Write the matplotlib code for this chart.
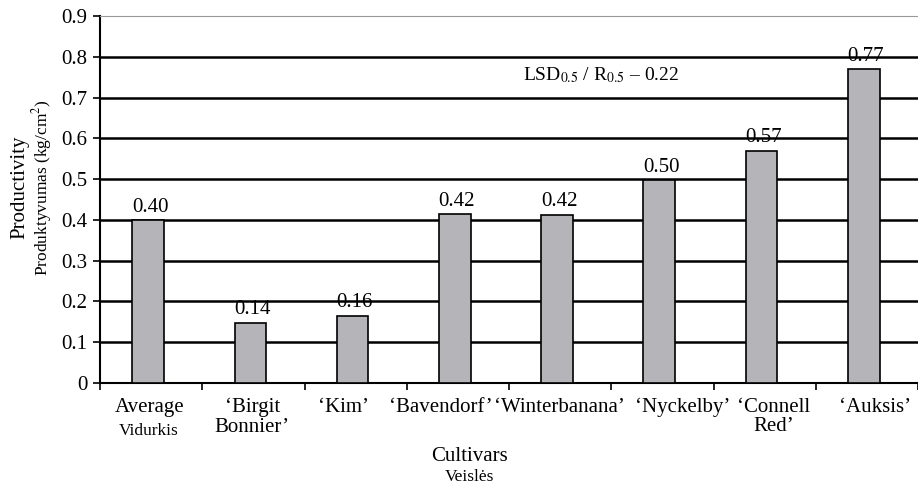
import matplotlib
matplotlib.use("Agg")
import matplotlib.pyplot as plt
import numpy as np
from matplotlib.transforms import blended_transform_factory

plt.rcParams['font.family'] = ['Liberation Serif', 'DejaVu Serif']
plt.rcParams['mathtext.fontset'] = 'stix'

categories = ["Average", "‘Birgit\nBonnier’", "‘Kim’", "‘Bavendorf’", "‘Winterbanana’",
              "‘Nyckelby’", "‘Connell\nRed’", "‘Auksis’"]
sub_labels = ["Vidurkis", "", "", "", "", "", "", ""]
values = [0.40, 0.148, 0.165, 0.415, 0.413, 0.497, 0.57, 0.77]
value_labels = ["0.40", "0.14", "0.16", "0.42", "0.42", "0.50", "0.57", "0.77"]
yticks = [0, 0.1, 0.2, 0.3, 0.4, 0.5, 0.6, 0.7, 0.8, 0.9]
ytick_labels = ["0", "0.1", "0.2", "0.3", "0.4", "0.5", "0.6", "0.7", "0.8", "0.9"]

# layout only: horizontal nudges of category labels (in category units)
label_shift = [-0.02, -0.01, -0.12, -0.17, -0.01, 0.20, 0.09, 0.08]

BIG = 15
SMALL = 12.5

fig = plt.figure(figsize=(9.18, 4.87), dpi=100)
ax = fig.add_axes([0.109, 0.2136, 0.891, 0.7534])

x = np.arange(len(categories))
ax.set_axisbelow(True)
for yv in yticks[1:-1]:
    ax.axhline(yv, color='black', lw=1.8, zorder=1)
ax.bar(x - 0.03, values, width=0.31, color='#b4b4b9', edgecolor='black', linewidth=1.2, zorder=3)

for xi, v, lab in zip(x, values, value_labels):
    ax.text(xi - 0.01, v + 0.008, lab, ha='center', va='bottom', fontsize=BIG)

ax.set_xlim(-0.5, len(categories) - 0.5)
ax.set_ylim(0, 0.9)
ax.set_yticks(yticks)
ax.set_yticklabels(ytick_labels, fontsize=BIG)
ax.tick_params(axis='y', direction='out', length=5, width=1.2, pad=4)

ax.set_xticks([])
ax.set_xticks(np.arange(-0.5, len(categories)), minor=True)
ax.tick_params(axis='x', which='minor', direction='out', length=5, width=1.2)
ax.tick_params(axis='x', which='major', length=0)

ax.spines['right'].set_visible(False)
ax.spines['top'].set_color('#999999')
ax.spines['left'].set_linewidth(1.5)
ax.spines['bottom'].set_linewidth(1.5)

trans = blended_transform_factory(ax.transData, ax.transAxes)
for xi, lab, sub, sh in zip(x, categories, sub_labels, label_shift):
    ax.text(xi + sh, -0.04, lab, ha='center', va='top', fontsize=BIG, transform=trans,
            linespacing=1.05)
    if sub:
        ax.text(xi + sh, -0.11, sub, ha='center', va='top', fontsize=SMALL, transform=trans)

ax.text(0.452, -0.175, "Cultivars", ha='center', va='top', fontsize=BIG, transform=ax.transAxes)
ax.text(0.452, -0.235, "Veislės", ha='center', va='top', fontsize=SMALL, transform=ax.transAxes)

fig.text(0.022, 0.615, "Productivity", rotation=90, ha='center', va='center', fontsize=BIG)
fig.text(0.046, 0.615, "Produktyvumas (kg/cm$^2$)", rotation=90, ha='center', va='center', fontsize=SMALL)

ax.text(4.4, 0.755, r"LSD$_{\mathrm{0.5}}$ / R$_{\mathrm{0.5}}$ – 0.22", ha='center', va='center',
        fontsize=14)

fig.savefig("out.png", dpi=100)
